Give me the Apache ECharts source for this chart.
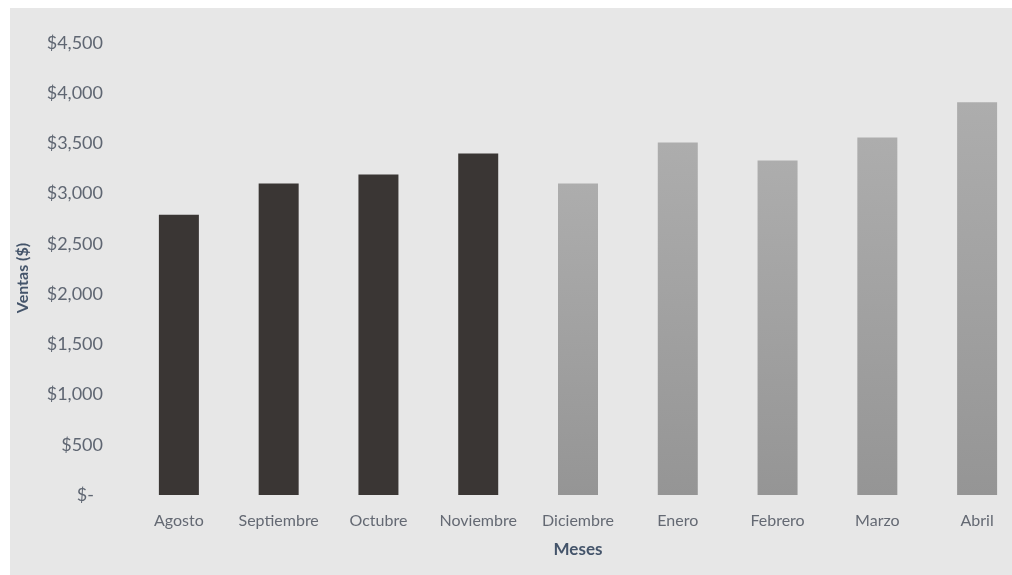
<!DOCTYPE html>
<html>
<head>
<meta charset="utf-8">
<title>Ventas por mes</title>
<script src="https://cdn.jsdelivr.net/npm/echarts@6/dist/echarts.min.js"></script>
<style>
  html, body { margin: 0; padding: 0; background: #ffffff; }
  #chart { width: 1012px; height: 575px; }
</style>
</head>
<body>
<div id="chart"></div>
<script>
// Monthly sales: first four months actual, remaining months projected
const months = ['Agosto', 'Septiembre', 'Octubre', 'Noviembre', 'Diciembre', 'Enero', 'Febrero', 'Marzo', 'Abril'];
const ventas = [2790, 3100, 3190, 3400, 3100, 3510, 3330, 3560, 3910];
const realCount = 4; // bars drawn in the dark colour
const yTicks = { min: 0, max: 4500, step: 500 };

const darkColor = '#3a3634';
const lightGradient = new echarts.graphic.LinearGradient(0, 0, 0, 1, [
  { offset: 0, color: '#adadad' },
  { offset: 1, color: '#959595' }
]);

const barData = ventas.map((v, i) => ({
  value: v,
  itemStyle: { color: i < realCount ? darkColor : lightGradient }
}));

const chart = echarts.init(document.getElementById('chart'), null, { renderer: 'canvas' });

chart.setOption({
  backgroundColor: '#ffffff',
  animation: false,
  textStyle: { fontFamily: 'Lato' },
  graphic: [{
    type: 'rect',
    z: -10,
    silent: true,
    shape: { x: 10, y: 8, width: 1010, height: 580 },
    style: { fill: '#e7e7e7' }
  }],
  grid: {
    left: 129, top: 43, width: 898, bottom: 80,
    containLabel: false,
    outerBoundsMode: 'none'
  },
  xAxis: {
    type: 'category',
    data: months,
    axisLine: { show: false },
    axisTick: { show: false },
    axisLabel: { color: '#646973', fontSize: 16, margin: 18, interval: 0 },
    name: 'Meses',
    nameLocation: 'middle',
    nameGap: 46,
    nameTextStyle: { color: '#44546a', fontSize: 17, fontWeight: 'bold' }
  },
  yAxis: {
    type: 'value',
    min: yTicks.min,
    max: yTicks.max,
    interval: yTicks.step,
    splitLine: { show: false },
    axisLine: { show: false },
    axisTick: { show: false },
    axisLabel: {
      color: '#5f6672',
      fontSize: 18,
      margin: 26,
      formatter: v => v === 0 ? '{z|$-}' : '$' + v.toLocaleString('en-US'),
      rich: { z: { color: '#5f6672', fontSize: 18, padding: [0, 9, 0, 0] } }
    },
    name: 'Ventas ($)',
    nameLocation: 'middle',
    nameGap: 98,
    nameRotate: 90,
    nameTextStyle: { color: '#44546a', fontSize: 16, fontWeight: 'bold', padding: [0, 18, 0, 0] }
  },
  series: [{
    type: 'bar',
    data: barData,
    barWidth: 40
  }]
});
</script>
</body>
</html>
